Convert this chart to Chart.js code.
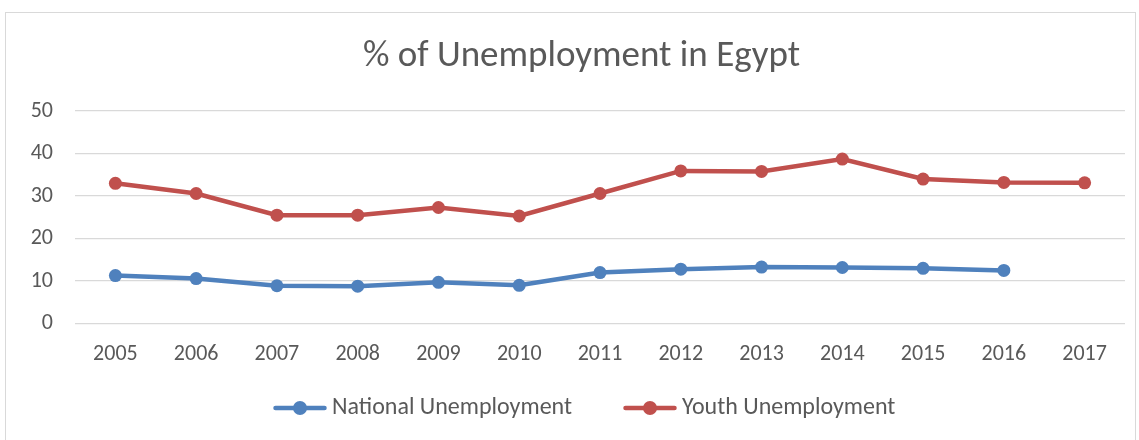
<!DOCTYPE html>
<html>
<head>
<meta charset="utf-8">
<script src="https://cdn.jsdelivr.net/npm/chart.js@4"></script>
<style>
html,body{margin:0;padding:0;background:#fff;}
#wrap{position:relative;width:1139px;height:440px;}
canvas{display:block;}
</style>
</head>
<body>
<div id="wrap"><canvas id="c" width="1139" height="440"></canvas></div>
<script>
const years = ['2005','2006','2007','2008','2009','2010','2011','2012','2013','2014','2015','2016','2017'];
const nationalUnemployment = [11.3, 10.6, 8.9, 8.8, 9.7, 9.0, 12.0, 12.8, 13.3, 13.2, 13.0, 12.5, null];
const youthUnemployment = [33.0, 30.6, 25.5, 25.5, 27.3, 25.3, 30.6, 35.9, 35.8, 38.7, 34.0, 33.2, 33.1];
const yTicks = [0, 10, 20, 30, 40, 50];
const seriesNames = ['National Unemployment', 'Youth Unemployment'];
const chartTitle = '% of Unemployment in Egypt';

const BLUE = '#4f81bd', RED = '#c0504d', GREY = '#595959';
const FONT = 'Carlito, Lato, "Open Sans", sans-serif';
const LEGEND_PAD = 58;
const LEGEND_FONT = 24;

function legendIcon(color){
  const cv = document.createElement('canvas');
  cv.width = 54; cv.height = 16;
  const g = cv.getContext('2d');
  g.strokeStyle = color; g.lineWidth = 4.5; g.lineCap = 'round';
  g.beginPath(); g.moveTo(2.5,8); g.lineTo(51.5,8); g.stroke();
  g.fillStyle = color;
  g.beginPath(); g.arc(27,8,7,0,Math.PI*2); g.fill();
  return cv;
}
const icons = [legendIcon(BLUE), legendIcon(RED)];

const framePlugin = {
  id:'frame',
  beforeDraw(chart){
    const ctx = chart.ctx;
    ctx.save();
    ctx.strokeStyle = '#d9d9d9';
    ctx.lineWidth = 1;
    ctx.strokeRect(5.5, 12.5, 1130, 440);
    ctx.restore();
    const lg = chart.legend;
    if (lg) {
      const w = lg.right - lg.left;
      lg.left = 280 - LEGEND_PAD;
      lg.right = lg.left + w;
      const h = lg.bottom - lg.top;
      lg.top = 408 - LEGEND_PAD - LEGEND_FONT / 2;
      lg.bottom = lg.top + h;
    }
    const tb = chart.titleBlock;
    if (tb && !tb._shifted) { tb.left += 9; tb.right += 9; tb._shifted = true; }
  }
};

new Chart(document.getElementById('c'), {
  type:'line',
  data:{
    labels: years,
    datasets:[
      {label: seriesNames[0], data: nationalUnemployment, borderColor: BLUE, backgroundColor: BLUE,
       borderWidth: 4.5, pointRadius: 6.5, pointHoverRadius: 6.5, pointBackgroundColor: BLUE, pointBorderWidth: 0, tension: 0, spanGaps:false},
      {label: seriesNames[1], data: youthUnemployment, borderColor: RED, backgroundColor: RED,
       borderWidth: 4.5, pointRadius: 6.5, pointHoverRadius: 6.5, pointBackgroundColor: RED, pointBorderWidth: 0, tension: 0}
    ]
  },
  options:{
    responsive:false,
    animation:false,
    layout:{padding:{left:20, right:14, top:0, bottom:-38}},
    plugins:{
      title:{display:true, text: chartTitle, color: GREY,
        font:{family: FONT, size: 37, weight: '300'}, padding:{top:35, bottom:31.6}},
      legend:{position:'bottom', align:'start',
        labels:{
          color: GREY, font:{family: FONT, size: LEGEND_FONT},
          usePointStyle:true, pointStyleWidth: 40, boxHeight: 16, padding: LEGEND_PAD,
          generateLabels(chart){
            return chart.data.datasets.map((d,i)=>({
              text: d.label, pointStyle: icons[i], fillStyle: d.borderColor, strokeStyle: d.borderColor,
              lineWidth:0, hidden:false, datasetIndex:i, fontColor: GREY
            }));
          }
        }},
      tooltip:{enabled:false}
    },
    scales:{
      x:{
        offset:true,
        grid:{display:false, drawTicks:false},
        border:{display:false},
        ticks:{color: GREY, font:{family: FONT, size: 22}, padding: 18, maxRotation:0}
      },
      y:{
        min:0, max:50,
        afterBuildTicks(s){ s.ticks = yTicks.map(v=>({value:v})); },
        afterFit(s){ s.width = 55; },
        grid:{color:'#d9d9d9', lineWidth:1.3, drawTicks:false},
        border:{display:false},
        ticks:{color: GREY, font:{family: FONT, size: 22}, padding: 22}
      }
    }
  },
  plugins:[framePlugin]
});
</script>
</body>
</html>
